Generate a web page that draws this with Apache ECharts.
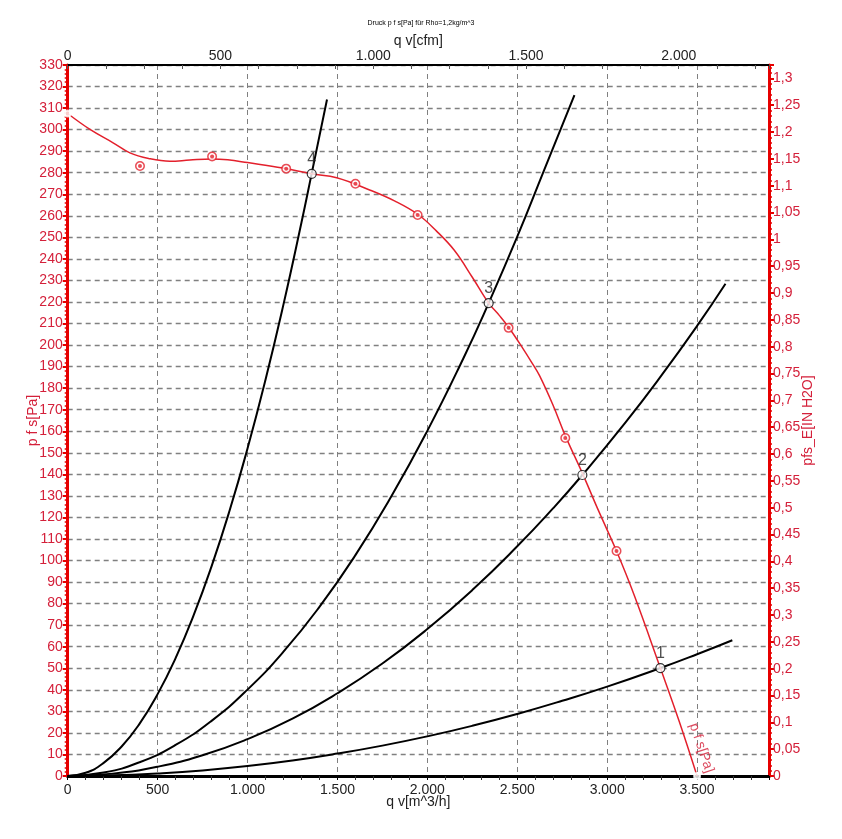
<!DOCTYPE html>
<html>
<head>
<meta charset="utf-8">
<script src="https://cdn.jsdelivr.net/npm/echarts@6/dist/echarts.min.js"></script>
<style>
html,body{margin:0;padding:0;background:#fff;}
#chart{width:842px;height:839px;}
</style>
</head>
<body>
<div id="chart"></div>
<script>
// ---- data ----
const titleText = 'Druck p f s[Pa] für Rho=1,2kg/m^3';
// fan curve p f s [Pa] over q v [m^3/h]
const qvFan = [0, 124, 250, 346, 450, 568, 679, 800, 890, 1000, 1196, 1357, 1496, 1679, 1820, 1950, 2050, 2150, 2250, 2341, 2400, 2452, 2531, 2580, 2624, 2698, 2767, 2865, 2950, 3052, 3150, 3296, 3400, 3500];
const pFan  = [307.5, 300.1, 294.0, 289.2, 286.6, 285.3, 285.9, 286.4, 286.0, 284.7, 282.2, 279.5, 277.7, 272.0, 266.8, 260.5, 253.0, 244.0, 231.5, 219.5, 213.8, 208.3, 198.5, 192.0, 185.8, 172.3, 158.0, 140.0, 123.5, 104.4, 84.0, 50.1, 25.5, 0];
// measured points on the fan curve
const qvMeas = [402, 803, 1215, 1600, 1946, 2452, 2767, 3052];
const pMeas  = [283.1, 287.5, 281.9, 274.9, 260.4, 208.0, 156.9, 104.4];
// system curves 1..4
const qvSys1 = [0, 250, 500, 750, 1000, 1250, 1500, 1750, 2000, 2250, 2500, 2750, 3000, 3296, 3500, 3696];
const pSys1  = [0, 0.3, 1.2, 2.6, 4.6, 7.2, 10.4, 14.1, 18.4, 23.3, 28.8, 34.9, 41.5, 50.1, 56.5, 63.0];
const qvSys2 = [0, 250, 500, 750, 1000, 1250, 1500, 1750, 2000, 2250, 2500, 2700, 2862, 3100, 3300, 3500, 3658];
const pSys2  = [0, 1.1, 4.3, 9.6, 17.1, 26.6, 38.4, 52.2, 68.2, 86.3, 106.6, 124.3, 139.7, 163.9, 185.7, 208.9, 228.5];
const qvSys3 = [0, 200, 400, 600, 800, 1000, 1200, 1400, 1600, 1800, 2000, 2200, 2341, 2500, 2650, 2818];
const pSys3  = [0, 1.6, 6.4, 14.4, 25.6, 40.1, 57.7, 78.5, 102.5, 129.8, 160.2, 193.8, 219.5, 250.3, 281.3, 316.0];
const qvSys4 = [0, 100, 200, 300, 400, 500, 600, 700, 800, 900, 1000, 1100, 1200, 1300, 1357, 1442];
const pSys4  = [0, 1.5, 6.1, 13.7, 24.3, 38.0, 54.7, 74.5, 97.3, 123.1, 152.0, 183.9, 218.9, 256.9, 279.7, 314.0];
// operating points (intersections)
const opLabels = ['1', '2', '3', '4'];
const qvOp = [3296, 2862, 2341, 1357];
const pOp  = [50.1, 139.7, 219.5, 279.5];
// axis settings
const qvMax = 3900;          // m^3/h
const pMax = 330;            // Pa
const CFM = 1.69901;         // m^3/h per cfm
const PA_PER_INH2O = 249.089;

const zip = (a, b) => a.map((v, i) => [v, b[i]]);
const FONT = 'Liberation Sans, Arial, sans-serif';
const RED_AX = '#e60000';
const RED_TX = '#d4203a';
const RED_LN = '#e3202c';

function thousands(v) {
  v = Math.round(v);
  if (v >= 1000) return Math.floor(v / 1000) + '.' + String(v % 1000).padStart(3, '0');
  return String(v);
}
function commaDec(v) {
  return String(Math.round(v * 100) / 100).replace('.', ',');
}

const chart = echarts.init(document.getElementById('chart'));
const sysStyle = (d) => ({
  type: 'line', xAxisIndex: 0, yAxisIndex: 0, data: d, smooth: 0.5,
  showSymbol: false, symbol: 'none', lineStyle: { color: '#000', width: 2 }, z: 3, silent: true
});
chart.setOption({
  animation: false,
  backgroundColor: '#fff',
  textStyle: { fontFamily: FONT },
  title: {
    text: titleText, left: 'center', top: 15,
    textStyle: { fontSize: 7, fontWeight: 'normal', color: '#000', fontFamily: FONT }
  },
  grid: { left: 67.7, right: 73, top: 65, bottom: 63, containLabel: false },
  xAxis: [
    {
      type: 'value', position: 'bottom', min: 0, max: qvMax, interval: 500,
      name: 'q v[m^3/h]', nameLocation: 'middle', nameGap: 19, nameMoveOverlap: false,
      nameTextStyle: { fontSize: 14, color: '#222', fontFamily: FONT },
      axisLine: { show: true, onZero: false, lineStyle: { color: '#000', width: 3 } },
      axisTick: { show: true, length: 4, lineStyle: { color: '#000', width: 1 } },
      minorTick: { show: true, splitNumber: 5, length: 4, lineStyle: { color: '#333', width: 1 } },
      axisLabel: { fontSize: 14, color: '#222', margin: 7, showMaxLabel: false, formatter: thousands, fontFamily: FONT },
      splitLine: { show: true, lineStyle: { color: '#808080', width: 1, type: [5, 4] } }
    },
    {
      type: 'value', position: 'top', min: 0, max: qvMax / CFM, interval: 500,
      name: 'q v[cfm]', nameLocation: 'middle', nameGap: 17, nameMoveOverlap: false,
      nameTextStyle: { fontSize: 14, color: '#222', fontFamily: FONT },
      axisLine: { show: true, onZero: false, lineStyle: { color: '#000', width: 2 } },
      axisTick: { show: true, length: 4, inside: true, lineStyle: { color: '#555', width: 1 } },
      minorTick: { show: true, splitNumber: 4, length: 4, lineStyle: { color: '#555', width: 1 } },
      axisLabel: { fontSize: 14, color: '#222', margin: 2, showMaxLabel: false, formatter: thousands, fontFamily: FONT },
      splitLine: { show: false }
    }
  ],
  yAxis: [
    {
      type: 'value', position: 'left', min: 0, max: pMax, interval: 10,
      name: 'p f s[Pa]', nameLocation: 'middle', nameGap: 28, nameMoveOverlap: false,
      nameTextStyle: { fontSize: 14, color: RED_TX, fontFamily: FONT },
      axisLine: { show: true, onZero: false, lineStyle: { color: RED_AX, width: 3 } },
      axisTick: { show: true, length: 5, lineStyle: { color: RED_AX, width: 2 } },
      minorTick: { show: true, splitNumber: 5, length: 3, lineStyle: { color: RED_AX, width: 1.5 } },
      axisLabel: { fontSize: 14, color: RED_TX, margin: 5, fontFamily: FONT },
      splitLine: { show: true, lineStyle: { color: '#808080', width: 1.3, type: [5, 4] } }
    },
    {
      type: 'value', position: 'right', min: 0, max: pMax / PA_PER_INH2O, interval: 0.05,
      name: 'pfs_E[IN H2O]', nameLocation: 'middle', nameGap: 32, nameMoveOverlap: false,
      nameTextStyle: { fontSize: 14, color: RED_TX, fontFamily: FONT },
      axisLine: { show: true, onZero: false, lineStyle: { color: RED_AX, width: 3 } },
      axisTick: { show: true, length: 5, lineStyle: { color: RED_AX, width: 2 } },
      minorTick: { show: true, splitNumber: 5, length: 3, lineStyle: { color: RED_AX, width: 1.5 } },
      axisLabel: { fontSize: 14, color: RED_TX, margin: 4, showMaxLabel: false, formatter: commaDec, fontFamily: FONT },
      splitLine: { show: false }
    }
  ],
  series: [
    sysStyle(zip(qvSys1, pSys1)),
    sysStyle(zip(qvSys2, pSys2)),
    sysStyle(zip(qvSys3, pSys3)),
    sysStyle(zip(qvSys4, pSys4)),
    {
      type: 'line', xAxisIndex: 0, yAxisIndex: 0, data: zip(qvFan, pFan),
      smooth: 0.4, showSymbol: false, symbol: 'none',
      lineStyle: { color: RED_LN, width: 1.5 }, z: 4, silent: true
    },
    {
      type: 'scatter', xAxisIndex: 0, yAxisIndex: 0,
      data: [[qvFan[0], pFan[0]], [qvFan[qvFan.length - 1], pFan[pFan.length - 1]]],
      symbol: 'emptyCircle', symbolSize: 6,
      itemStyle: { color: '#fff', borderColor: RED_LN, borderWidth: 1.2 }, z: 5, silent: true
    },
    {
      type: 'scatter', xAxisIndex: 0, yAxisIndex: 0, data: zip(qvMeas, pMeas),
      symbol: 'circle', symbolSize: 8.5,
      itemStyle: { color: '#fff', borderColor: RED_LN, borderWidth: 1.5 }, z: 5, silent: true
    },
    {
      type: 'scatter', xAxisIndex: 0, yAxisIndex: 0, data: zip(qvMeas, pMeas),
      symbol: 'circle', symbolSize: 4,
      itemStyle: { color: RED_LN }, z: 6, silent: true
    },
    {
      type: 'scatter', xAxisIndex: 0, yAxisIndex: 0,
      data: qvOp.map((q, i) => ({ value: [q, pOp[i]], name: opLabels[i] })),
      symbol: 'circle', symbolSize: 9,
      itemStyle: { color: '#fff', borderColor: '#000', borderWidth: 1.2 },
      label: { show: true, position: 'top', distance: 1, formatter: p => p.name, fontSize: 16, color: '#222', fontFamily: FONT },
      z: 7, silent: true
    },
    {
      type: 'scatter', xAxisIndex: 0, yAxisIndex: 0, data: [[3524, 13]],
      symbolSize: 0,
      label: { show: true, position: 'inside', rotate: -71.5, formatter: 'p f s[Pa]', fontSize: 14, color: RED_TX, fontFamily: FONT },
      z: 7, silent: true
    }
  ]
});
</script>
</body>
</html>
